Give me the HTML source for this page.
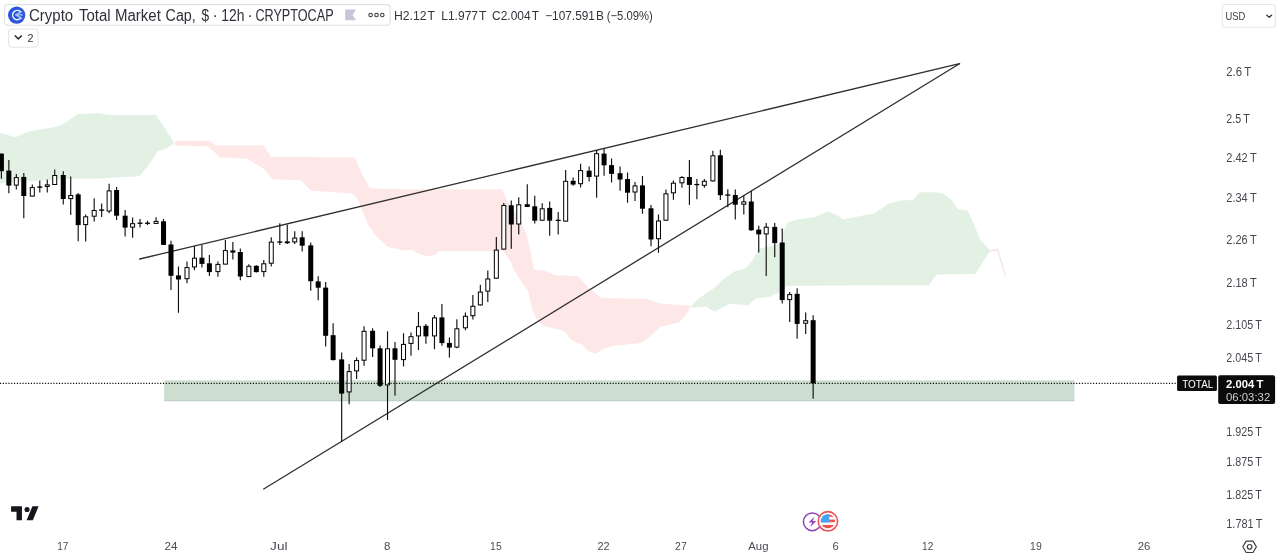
<!DOCTYPE html>
<html lang="en"><head><meta charset="utf-8"><title>Crypto Total Market Cap, $ · 12h · CRYPTOCAP</title>
<style>
html,body{margin:0;padding:0;background:#fff;}
body{width:1280px;height:558px;overflow:hidden;font-family:"Liberation Sans",sans-serif;}
svg{display:block;filter:blur(0.35px);}
svg text{font-family:"Liberation Sans",sans-serif;white-space:pre;}
</style></head>
<body>
<svg width="1280" height="558" viewBox="0 0 1280 558">
<rect width="1280" height="558" fill="#ffffff"/>
<g id="chart">
<polygon points="0.0,132.8 15.5,137.3 27.5,131.7 57.5,126.4 64.7,123.0 77.6,114.3 99.2,113.0 107.8,115.0 156.0,115.0 164.0,126.8 172.5,140.4 174.5,142.8 172.5,144.5 166.7,148.2 157.0,151.8 149.8,163.5 139.6,176.3 115.0,177.4 100.6,178.4 73.0,178.6 40.0,180.5 0.0,183.0" fill="#e3f1e5"/>
<polygon points="174.5,142.8 176.0,140.7 209.9,140.7 215.5,145.4 263.5,145.4 271.0,156.7 354.8,157.6 356.0,160.0 361.6,173.2 370.1,188.2 400.0,189.2 501.9,189.2 505.6,197.6 520.7,222.0 526.1,233.8 529.9,248.8 533.6,269.5 544.0,270.5 555.3,275.2 577.9,276.1 587.3,286.5 601.6,297.9 646.8,298.8 660.0,303.5 688.2,305.4 691.0,306.4 690.1,307.3 685.4,315.8 678.8,322.4 660.0,327.0 650.6,336.5 641.2,343.1 612.9,345.9 603.5,348.7 596.0,353.4 588.5,351.5 582.8,344.9 571.5,340.2 564.0,330.8 544.2,326.1 536.7,319.5 532.0,308.2 528.2,291.3 520.3,280.0 514.0,270.0 511.0,262.0 503.0,250.5 494.4,251.0 438.6,251.0 435.5,255.0 430.4,256.0 425.5,255.7 419.0,254.1 412.9,250.0 402.0,250.4 397.9,248.8 387.0,247.0 385.3,244.4 375.3,235.0 368.2,224.9 361.6,208.9 359.5,202.8 355.0,195.8 352.0,193.4 310.6,190.6 301.2,180.2 272.9,179.3 262.6,168.0 246.6,158.6 220.2,157.6 208.0,146.4 176.0,145.4" fill="#fde8e7"/>
<polygon points="691.0,306.4 698.4,298.6 714.3,288.0 722.2,280.1 735.3,270.9 745.9,268.3 752.5,260.2 758.8,249.0 772.6,245.7 781.0,243.0 783.5,231.0 787.7,222.5 796.5,219.4 815.3,217.0 827.6,211.6 835.5,214.3 843.4,219.5 875.0,212.9 888.2,203.7 900.0,200.4 913.3,199.9 919.9,192.3 936.8,192.3 943.9,193.8 951.0,199.4 958.2,209.6 967.4,210.6 973.5,222.9 980.3,240.0 990.3,250.4 975.3,273.9 936.4,274.6 928.9,285.2 790.7,285.8 786.4,286.3 780.1,292.0 768.9,297.0 756.4,298.5 752.5,301.3 748.5,305.2 730.0,303.8 714.3,311.8 706.4,306.5 691.0,307.5" fill="#e3f1e5"/>
<polygon points="990.3,250.2 997.9,248.6 1006.0,275.4 1004.6,275.4 997.2,250.8 990.3,251.4" fill="#f8e4e4"/>
<rect x="164.2" y="380.3" width="910.2" height="20.8" fill="#cdddd0"/>
<rect x="164.2" y="400.3" width="910.2" height="0.9" fill="#bccbbf"/>
<line x1="139.7" y1="259.0" x2="959.5" y2="63.7" stroke="#2f2f2f" stroke-width="1.3" stroke-linecap="round"/>
<line x1="263.7" y1="489.0" x2="959.5" y2="63.7" stroke="#2f2f2f" stroke-width="1.3" stroke-linecap="round"/>
<path d="M1.39 153.6V178.7M8.85 159.9V193.2M16.32 174.1V189.4M23.79 173.1V218.2M32.32 184.4V196.6M39.79 180.6V192.5M47.25 179.6V192.5M54.72 169.6V185.0M63.26 171.2V204.5M70.72 176.6V215.1M78.19 193.0V241.2M85.66 214.5V241.4M94.19 198.3V221.4M101.66 203.4V217.0M109.12 183.8V213.2M116.59 187.1V220.1M125.12 209.9V236.4M132.59 217.6V237.7M140.06 219.1V227.6M147.52 220.7V225.1M156.06 217.3V223.9M163.53 219.0V244.9M170.99 240.7V290.1M178.46 266.6V312.7M186.99 261.4V283.3M194.46 246.1V270.2M201.93 245.1V267.4M209.39 254.9V275.9M217.93 261.4V276.7M225.39 240.1V264.6M232.86 242.0V259.5M240.33 248.6V280.2M248.86 264.2V277.1M256.33 265.3V272.6M263.79 259.9V276.7M271.26 237.3V266.4M279.80 223.2V245.1M287.26 224.8V244.0M294.73 231.3V244.1M302.20 231.3V251.4M310.73 242.5V290.8M318.20 276.2V300.2M325.66 282.0V346.4M333.13 323.3V360.5M341.66 352.5V441.5M349.13 364.1V404.2M356.60 357.6V378.9M364.06 326.2V365.7M372.60 328.3V356.9M380.07 345.4V387.0M387.53 331.2V420.1M395.00 342.0V395.8M403.53 333.3V366.6M411.00 332.4V355.7M418.47 312.0V350.1M425.93 324.1V343.7M434.47 315.1V349.2M441.93 304.1V345.8M449.40 337.4V357.6M456.87 319.3V348.3M465.40 312.4V330.2M472.87 295.1V319.6M480.34 284.8V305.4M487.80 270.5V302.0M496.34 237.0V278.7M503.80 203.0V249.6M511.27 200.4V248.7M518.74 197.2V234.5M527.27 184.2V207.0M534.74 195.7V223.6M542.20 203.3V220.7M549.67 201.4V235.8M558.20 211.9V234.5M565.67 170.1V221.6M573.14 177.4V185.8M580.60 163.8V187.4M589.14 166.6V181.4M596.61 150.0V197.7M604.07 148.5V175.8M611.54 158.6V182.4M620.07 166.6V190.8M627.54 172.4V202.7M635.01 182.0V200.9M642.47 176.1V213.8M651.01 205.0V246.2M658.47 214.4V252.7M665.94 189.6V220.7M673.41 180.4V199.8M681.94 176.1V187.7M689.41 160.1V204.9M696.88 179.1V199.2M704.34 179.1V187.7M712.88 150.7V181.4M720.34 149.8V200.0M727.81 189.2V207.3M735.28 189.6V219.5M743.81 195.8V214.4M751.28 190.8V230.8M758.74 225.8V252.6M766.21 223.0V275.9M774.74 223.0V257.2M782.21 228.6V303.6M789.68 291.9V322.1M797.14 288.2V338.7M805.68 312.4V334.0M813.15 315.2V398.7" stroke="#111" stroke-width="1.15" fill="none"/>
<g fill="#000"><rect x="-1.11" y="153.6" width="5.00" height="17.6"/><rect x="6.35" y="170.6" width="5.00" height="15.0"/><rect x="21.29" y="176.9" width="5.00" height="19.1"/><rect x="37.29" y="186.4" width="5.00" height="1.4"/><rect x="60.76" y="175.0" width="5.00" height="24.0"/><rect x="75.69" y="194.4" width="5.00" height="30.7"/><rect x="99.16" y="209.4" width="5.00" height="1.4"/><rect x="114.09" y="190.0" width="5.00" height="25.7"/><rect x="122.62" y="215.7" width="5.00" height="11.9"/><rect x="137.56" y="222.6" width="5.00" height="1.3"/><rect x="145.02" y="222.6" width="5.00" height="1.3"/><rect x="161.03" y="221.3" width="5.00" height="23.6"/><rect x="168.49" y="244.5" width="5.00" height="31.3"/><rect x="175.96" y="275.4" width="5.00" height="4.1"/><rect x="199.43" y="257.7" width="5.00" height="6.2"/><rect x="206.89" y="263.3" width="5.00" height="8.8"/><rect x="230.36" y="250.4" width="5.00" height="2.2"/><rect x="237.83" y="252.0" width="5.00" height="24.5"/><rect x="253.83" y="265.8" width="5.00" height="6.3"/><rect x="277.30" y="241.4" width="5.00" height="1.3"/><rect x="284.76" y="241.4" width="5.00" height="1.8"/><rect x="299.70" y="237.3" width="5.00" height="8.4"/><rect x="308.23" y="245.4" width="5.00" height="35.8"/><rect x="315.70" y="281.4" width="5.00" height="6.3"/><rect x="323.16" y="287.6" width="5.00" height="48.2"/><rect x="330.63" y="335.2" width="5.00" height="24.9"/><rect x="339.16" y="359.4" width="5.00" height="34.2"/><rect x="370.10" y="330.8" width="5.00" height="17.5"/><rect x="377.57" y="348.3" width="5.00" height="37.5"/><rect x="392.50" y="348.3" width="5.00" height="11.5"/><rect x="423.43" y="325.8" width="5.00" height="10.6"/><rect x="439.43" y="317.4" width="5.00" height="25.7"/><rect x="446.90" y="342.9" width="5.00" height="4.7"/><rect x="508.77" y="205.3" width="5.00" height="19.2"/><rect x="524.77" y="204.2" width="5.00" height="2.8"/><rect x="532.24" y="206.3" width="5.00" height="14.4"/><rect x="547.17" y="207.9" width="5.00" height="12.8"/><rect x="555.70" y="219.7" width="5.00" height="1.3"/><rect x="570.64" y="180.8" width="5.00" height="3.7"/><rect x="586.64" y="170.7" width="5.00" height="6.3"/><rect x="601.57" y="153.6" width="5.00" height="11.7"/><rect x="609.04" y="165.1" width="5.00" height="8.8"/><rect x="617.57" y="173.2" width="5.00" height="6.3"/><rect x="625.04" y="179.0" width="5.00" height="13.7"/><rect x="639.97" y="185.4" width="5.00" height="23.3"/><rect x="648.51" y="208.3" width="5.00" height="31.2"/><rect x="686.91" y="177.0" width="5.00" height="7.9"/><rect x="694.38" y="183.9" width="5.00" height="1.3"/><rect x="717.84" y="155.3" width="5.00" height="39.9"/><rect x="725.31" y="194.4" width="5.00" height="1.3"/><rect x="732.78" y="195.0" width="5.00" height="9.7"/><rect x="748.78" y="201.5" width="5.00" height="28.8"/><rect x="756.24" y="229.6" width="5.00" height="4.8"/><rect x="772.24" y="226.9" width="5.00" height="16.2"/><rect x="779.71" y="242.5" width="5.00" height="57.6"/><rect x="794.64" y="293.8" width="5.00" height="30.1"/><rect x="810.65" y="320.2" width="5.00" height="63.1"/></g>
<g fill="#fff" stroke="#000" stroke-width="1"><rect x="14.32" y="177.6" width="4.00" height="7.5"/><rect x="30.32" y="187.6" width="4.00" height="8.5"/><rect x="45.25" y="184.9" width="4.00" height="1.5"/><rect x="52.72" y="175.5" width="4.00" height="9.0"/><rect x="68.72" y="195.5" width="4.00" height="3.1"/><rect x="83.66" y="216.8" width="4.00" height="7.8"/><rect x="92.19" y="210.5" width="4.00" height="5.7"/><rect x="107.12" y="190.9" width="4.00" height="20.1"/><rect x="130.59" y="223.7" width="4.00" height="3.4"/><rect x="154.06" y="221.4" width="4.00" height="2.0"/><rect x="184.99" y="267.6" width="4.00" height="11.1"/><rect x="192.46" y="258.2" width="4.00" height="8.7"/><rect x="215.93" y="264.4" width="4.00" height="7.2"/><rect x="223.39" y="250.6" width="4.00" height="13.5"/><rect x="246.86" y="266.3" width="4.00" height="10.3"/><rect x="261.79" y="263.8" width="4.00" height="7.8"/><rect x="269.26" y="242.1" width="4.00" height="21.1"/><rect x="292.73" y="238.1" width="4.00" height="3.8"/><rect x="347.13" y="371.6" width="4.00" height="20.3"/><rect x="354.60" y="360.6" width="4.00" height="10.3"/><rect x="362.06" y="331.3" width="4.00" height="28.9"/><rect x="385.53" y="348.8" width="4.00" height="36.1"/><rect x="401.53" y="344.4" width="4.00" height="15.2"/><rect x="409.00" y="336.7" width="4.00" height="6.7"/><rect x="416.47" y="326.7" width="4.00" height="9.2"/><rect x="432.47" y="317.9" width="4.00" height="18.0"/><rect x="454.87" y="328.8" width="4.00" height="18.3"/><rect x="463.40" y="316.3" width="4.00" height="11.5"/><rect x="470.87" y="306.3" width="4.00" height="9.4"/><rect x="478.34" y="292.1" width="4.00" height="12.8"/><rect x="485.80" y="279.0" width="4.00" height="12.1"/><rect x="494.34" y="250.1" width="4.00" height="28.1"/><rect x="501.80" y="205.5" width="4.00" height="43.6"/><rect x="516.74" y="204.8" width="4.00" height="19.2"/><rect x="540.20" y="208.8" width="4.00" height="11.4"/><rect x="563.67" y="181.3" width="4.00" height="39.8"/><rect x="578.60" y="170.6" width="4.00" height="13.1"/><rect x="594.61" y="153.7" width="4.00" height="22.4"/><rect x="633.01" y="185.9" width="4.00" height="6.1"/><rect x="656.47" y="221.0" width="4.00" height="17.7"/><rect x="663.94" y="193.8" width="4.00" height="26.4"/><rect x="671.41" y="183.2" width="4.00" height="9.6"/><rect x="679.94" y="177.5" width="4.00" height="5.3"/><rect x="702.34" y="181.3" width="4.00" height="4.0"/><rect x="710.88" y="155.8" width="4.00" height="25.1"/><rect x="741.81" y="201.9" width="4.00" height="2.3"/><rect x="764.21" y="227.2" width="4.00" height="6.7"/><rect x="787.68" y="294.6" width="4.00" height="5.0"/><rect x="803.68" y="320.7" width="4.00" height="2.5"/></g>
<line x1="0" y1="383.3" x2="1177" y2="383.3" stroke="#000" stroke-width="1.25" stroke-dasharray="1.1 1.71"/>
</g>
<g id="ui">
<rect x="4.6" y="4.6" width="385.6" height="20.6" rx="3.5" fill="#fff" stroke="#dfe1e8" stroke-width="1.1"/>
<circle cx="16.65" cy="15.05" r="8.65" fill="#2a56dd"/>
<path d="M20.3 11.6A4.6 4.6 0 1 0 20.3 18.5" fill="none" stroke="#eef3ff" stroke-width="1.5" stroke-linecap="round"/>
<path d="M21.6 11.9L15.6 14.9L21.6 18.1M15.6 14.9H22.4" fill="none" stroke="#a9c3ff" stroke-width="1.3" stroke-linecap="round" stroke-linejoin="round"/>
<text x="29.0" y="20.7" font-size="15.6" fill="#2e3038" textLength="44.2" lengthAdjust="spacingAndGlyphs" >Crypto</text>
<text x="79.0" y="20.7" font-size="15.6" fill="#2e3038" textLength="31.6" lengthAdjust="spacingAndGlyphs" >Total</text>
<text x="114.9" y="20.7" font-size="15.6" fill="#2e3038" textLength="46" lengthAdjust="spacingAndGlyphs" >Market</text>
<text x="165.6" y="20.7" font-size="15.6" fill="#2e3038" textLength="30.2" lengthAdjust="spacingAndGlyphs" >Cap,</text>
<text x="201.6" y="20.7" font-size="15.6" fill="#2e3038" textLength="7.6" lengthAdjust="spacingAndGlyphs" >$</text>
<text x="212.6" y="20.7" font-size="15.6" fill="#2e3038" >·</text>
<text x="221.3" y="20.7" font-size="15.6" fill="#2e3038" textLength="23.2" lengthAdjust="spacingAndGlyphs" >12h</text>
<text x="247.6" y="20.7" font-size="15.6" fill="#2e3038" >·</text>
<text x="255.4" y="20.7" font-size="15.6" fill="#2e3038" textLength="78.2" lengthAdjust="spacingAndGlyphs" >CRYPTOCAP</text>
<path d="M345.2 9.5H356L352.6 14.9L356 20.3H345.2Z" fill="#c6c6d8"/>
<circle cx="370.6" cy="15" r="1.75" fill="none" stroke="#3a3a3a" stroke-width="1.1"/>
<circle cx="376.5" cy="15" r="1.75" fill="none" stroke="#3a3a3a" stroke-width="1.1"/>
<circle cx="382.3" cy="15" r="1.75" fill="none" stroke="#3a3a3a" stroke-width="1.1"/>
<text x="394.0" y="19.7" font-size="12.3" fill="#33353c" textLength="41.0" lengthAdjust="spacingAndGlyphs" >H2.12&#8202;T</text>
<text x="441.2" y="19.7" font-size="12.3" fill="#33353c" textLength="45.2" lengthAdjust="spacingAndGlyphs" >L1.977&#8202;T</text>
<text x="492.0" y="19.7" font-size="12.3" fill="#33353c" textLength="47.0" lengthAdjust="spacingAndGlyphs" >C2.004&#8202;T</text>
<text x="545.2" y="19.7" font-size="12.3" fill="#33353c" textLength="58.6" lengthAdjust="spacingAndGlyphs" >−107.591&#8202;B</text>
<text x="606.8" y="19.7" font-size="12.3" fill="#33353c" textLength="46.0" lengthAdjust="spacingAndGlyphs" >(−5.09%)</text>
<rect x="8.6" y="29" width="29.4" height="18.2" rx="3.5" fill="#fff" stroke="#e3e5ea" stroke-width="1.1"/>
<path d="M15.2 35.9L18.3 38.9L21.4 35.9" fill="none" stroke="#33353c" stroke-width="1.5" stroke-linecap="round" stroke-linejoin="round"/>
<text x="27.4" y="41.7" font-size="11.5" fill="#33353c" textLength="6.0" lengthAdjust="spacingAndGlyphs" >2</text>
<rect x="1222.3" y="4.5" width="53" height="22.7" rx="3" fill="#fff" stroke="#e6e7ec" stroke-width="1.1"/>
<text x="1225.6" y="19.7" font-size="11.8" fill="#3a3c44" textLength="19.8" lengthAdjust="spacingAndGlyphs" >USD</text>
<path d="M1266.8 15.3L1269.2 17.3L1271.6 15.3" fill="none" stroke="#33353c" stroke-width="1.35" stroke-linecap="round" stroke-linejoin="round"/>
<text x="1226.3" y="75.9" font-size="12" fill="#45474e" textLength="24.9" lengthAdjust="spacingAndGlyphs" >2.6&#8201;T</text>
<text x="1226.3" y="122.9" font-size="12" fill="#45474e" textLength="23.4" lengthAdjust="spacingAndGlyphs" >2.5&#8201;T</text>
<text x="1226.3" y="162.0" font-size="12" fill="#45474e" textLength="30.3" lengthAdjust="spacingAndGlyphs" >2.42&#8201;T</text>
<text x="1226.3" y="201.5" font-size="12" fill="#45474e" textLength="30.3" lengthAdjust="spacingAndGlyphs" >2.34&#8201;T</text>
<text x="1226.3" y="243.7" font-size="12" fill="#45474e" textLength="30.3" lengthAdjust="spacingAndGlyphs" >2.26&#8201;T</text>
<text x="1226.3" y="286.9" font-size="12" fill="#45474e" textLength="30.3" lengthAdjust="spacingAndGlyphs" >2.18&#8201;T</text>
<text x="1226.3" y="329.2" font-size="12" fill="#45474e" textLength="35.5" lengthAdjust="spacingAndGlyphs" >2.105&#8201;T</text>
<text x="1226.3" y="362.3" font-size="12" fill="#45474e" textLength="35.5" lengthAdjust="spacingAndGlyphs" >2.045&#8201;T</text>
<text x="1226.3" y="435.8" font-size="12" fill="#45474e" textLength="35.5" lengthAdjust="spacingAndGlyphs" >1.925&#8201;T</text>
<text x="1226.3" y="466.4" font-size="12" fill="#45474e" textLength="35.5" lengthAdjust="spacingAndGlyphs" >1.875&#8201;T</text>
<text x="1226.3" y="499.1" font-size="12" fill="#45474e" textLength="35.5" lengthAdjust="spacingAndGlyphs" >1.825&#8201;T</text>
<text x="1226.3" y="527.9" font-size="12" fill="#45474e" textLength="36.1" lengthAdjust="spacingAndGlyphs" >1.781&#8201;T</text>
<rect x="1177.1" y="375.6" width="39.8" height="15.5" rx="1.5" fill="#0b0b0b"/>
<text x="1182.2" y="387.6" font-size="11.2" fill="#fff" textLength="31.2" lengthAdjust="spacingAndGlyphs" >TOTAL</text>
<rect x="1218.2" y="375.3" width="56.9" height="28.7" rx="2" fill="#0b0b0b"/>
<text x="1226.0" y="387.6" font-size="11.8" fill="#fff" textLength="37.3" lengthAdjust="spacingAndGlyphs" font-weight="bold" >2.004&#8201;T</text>
<text x="1226.0" y="400.7" font-size="11.6" fill="#cfcfcf" textLength="44.2" lengthAdjust="spacingAndGlyphs" >06:03:32</text>
<text x="57.2" y="550.3" font-size="11.6" fill="#4a4c53" textLength="11.2" lengthAdjust="spacingAndGlyphs" >17</text>
<text x="164.5" y="550.3" font-size="11.6" fill="#4a4c53" textLength="13.0" lengthAdjust="spacingAndGlyphs" >24</text>
<text x="270.1" y="550.3" font-size="11.6" fill="#4a4c53" textLength="17.400000000000002" lengthAdjust="spacingAndGlyphs" >Jul</text>
<text x="384.1" y="550.3" font-size="11.6" fill="#4a4c53" textLength="6.3999999999999995" lengthAdjust="spacingAndGlyphs" >8</text>
<text x="490.1" y="550.3" font-size="11.6" fill="#4a4c53" textLength="11.6" lengthAdjust="spacingAndGlyphs" >15</text>
<text x="597.5" y="550.3" font-size="11.6" fill="#4a4c53" textLength="12.2" lengthAdjust="spacingAndGlyphs" >22</text>
<text x="675.1" y="550.3" font-size="11.6" fill="#4a4c53" textLength="11.6" lengthAdjust="spacingAndGlyphs" >27</text>
<text x="748.3" y="550.3" font-size="11.6" fill="#4a4c53" textLength="20.200000000000003" lengthAdjust="spacingAndGlyphs" >Aug</text>
<text x="832.6" y="550.3" font-size="11.6" fill="#4a4c53" textLength="6.199999999999999" lengthAdjust="spacingAndGlyphs" >6</text>
<text x="922.1" y="550.3" font-size="11.6" fill="#4a4c53" textLength="11.2" lengthAdjust="spacingAndGlyphs" >12</text>
<text x="1030.1" y="550.3" font-size="11.6" fill="#4a4c53" textLength="11.6" lengthAdjust="spacingAndGlyphs" >19</text>
<text x="1137.7" y="550.3" font-size="11.6" fill="#4a4c53" textLength="12.6" lengthAdjust="spacingAndGlyphs" >26</text>
<g transform="translate(11.1 503.1) scale(0.775)" fill="#15161c"><path d="M14 22H7V11H0V4h14v18zM28 22h-8l7.5-18h8L28 22z"/><circle cx="20.6" cy="8.3" r="3.3"/></g>
<circle cx="812.3" cy="521.8" r="8.9" fill="#fff" stroke="#8f3fb0" stroke-width="1.5"/>
<path d="M814.6 516.6L808.6 522.6H812.2L810.2 527.2L816.2 521.0H812.6Z" fill="#9b3fc0"/>
<circle cx="827.9" cy="521.3" r="9.7" fill="#fff" stroke="#e8505b" stroke-width="1.6"/>
<clipPath id="fl"><circle cx="827.9" cy="521.3" r="7.1"/></clipPath>
<g clip-path="url(#fl)"><rect x="820" y="513" width="16" height="17" fill="#fff"/><rect x="820" y="514.2" width="16" height="2.6" fill="#ef5350"/><rect x="820" y="519.6" width="16" height="2.6" fill="#ef5350"/><rect x="820" y="525" width="16" height="3.6" fill="#ef5350"/><rect x="820" y="513" width="9.2" height="9.4" fill="#42a5f5"/></g>
<path d="M1242.8 546.8L1246.2 541.1H1253L1256.4 546.8L1253 552.5H1246.2Z" fill="none" stroke="#3d3f46" stroke-width="1.2" stroke-linejoin="round"/>
<circle cx="1249.6" cy="546.8" r="2.3" fill="none" stroke="#3d3f46" stroke-width="1.2"/>
</g>
</svg>
</body></html>
